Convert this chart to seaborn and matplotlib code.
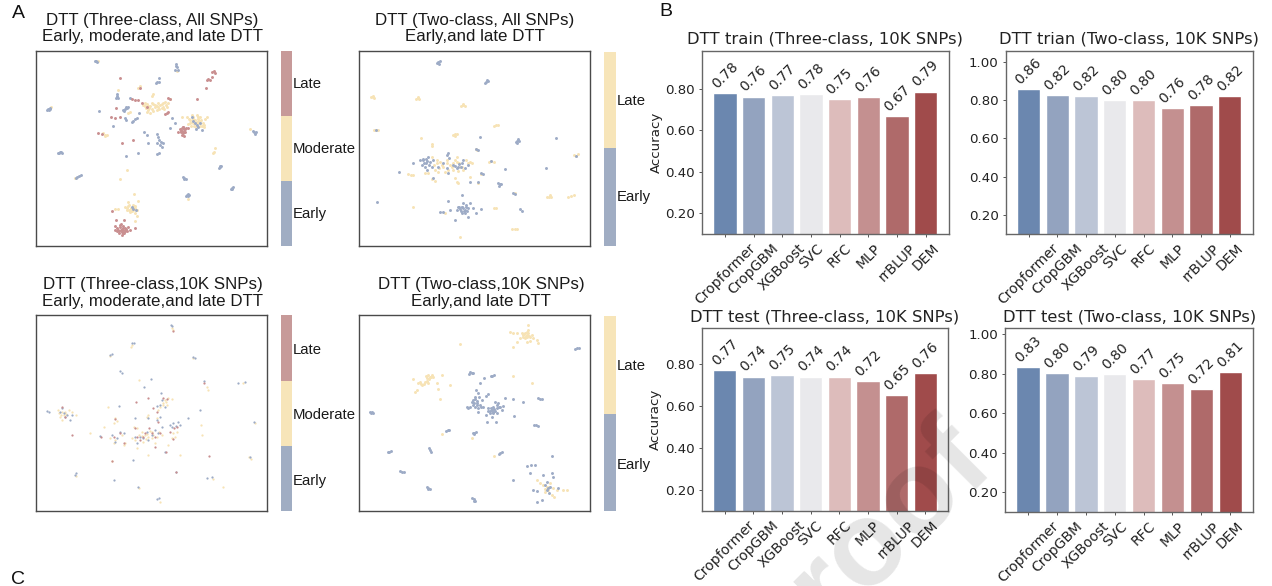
import matplotlib
matplotlib.use("Agg")
import matplotlib.pyplot as plt
import pandas as pd
import seaborn as sns

W, H = 1272, 586
METHODS = ["Cropformer", "CropGBM", "XGBoost", "SVC", "RFC", "MLP", "rrBLUP", "DEM"]
BAR_COLORS = ["#6b87af", "#93a3bf", "#bcc5d6", "#e9e9ec", "#ddbcbb", "#c49090", "#af6a6a", "#a04b4b"]
train_three = [0.78, 0.763, 0.772, 0.775, 0.75, 0.76, 0.668, 0.788]
train_two = [0.857, 0.825, 0.82, 0.80, 0.80, 0.76, 0.775, 0.822]
test_three = [0.772, 0.74, 0.746, 0.74, 0.74, 0.718, 0.653, 0.755]
test_two = [0.833, 0.803, 0.787, 0.797, 0.771, 0.75, 0.72, 0.808]

C_EARLY, C_MOD, C_LATE = "#9dabc6", "#f7e3b5", "#c98f90"
BAND_EARLY, BAND_MOD, BAND_LATE = "#a0adc3", "#f7e5b9", "#c79a99"

a1_early = [(146,327),(150,325),(143,330),(148,331),(152,328),(288,181),(284,183),(292,184),(527,190),(530,200),(526,208),(533,209),(529,196),
(472,246),(468,249),(476,244),(478,232),(350,280),(352,287),(349,292),(355,293),(375,327),(370,330),(380,325),(373,334),(385,322),(377,322),
(180,457),(175,458),(185,456),(178,459),(187,458),(232,531),(238,529),(244,526),(228,534),(553,534),(549,532),(557,538),(552,537),
(561,585),(565,582),(558,587),(563,589),(568,586),(660,501),(656,504),(663,499),(658,498),(695,564),(691,566),(698,562),(696,567),
(762,397),(768,395),(758,394),(764,401),(472,402),(475,412),(478,420),(472,428),(483,425),(480,435),(486,442),(488,430),
(375,355),(378,360),(405,358),(400,362),(395,367),(410,355),(418,340),(440,405),(445,430),(415,458),(377,467),(470,462),(478,460),(433,397),
(525,368),(510,385),(515,355),(298,334),(340,378),(390,292),(585,368),(590,375),(578,362),(595,382),(600,370),(607,390),(588,388),(575,350),
(400,628),(408,632),(395,622)]
a1_mod = [(430,315),(440,312),(450,318),(460,312),(470,318),(480,315),(490,320),(498,316),(505,308),(495,305),(475,308),(465,322),(455,328),(445,330),
(435,310),(485,325),(470,330),(450,340),(440,335),(415,262),(420,258),(354,268),(460,282),(457,286),(510,295),(385,338),(390,335),
(570,360),(575,365),(580,370),(585,360),(590,365),(595,358),(600,368),(565,372),(572,378),(580,352),(588,380),(600,378),(610,370),(615,358),
(622,352),(607,378),(560,350),(575,345),(590,345),(545,352),(613,382),(315,404),(310,400),(320,406),(314,408),(640,455),(637,458),(644,445),
(380,510),(360,537),(225,535),(403,583),(385,620),(392,625),(398,615),(405,620),(380,630),(388,632),(395,635),(405,640),(412,630),(375,622),
(415,605),(385,607),(345,628),(355,627),(410,650),(405,665),(565,598),(530,212),(295,182),(155,322),(750,388),
(435,318),(445,318),(455,310),(465,316),(475,322),(485,312),(492,326),(438,325),(448,324),(460,332),(478,328),(500,322),(488,308),
(578,358),(584,372),(592,370),(598,364),(570,368),(582,378),(594,352),(604,360),(566,356),(612,376),(600,350),
(388,616),(394,628),(400,622),(390,636),(382,624),(398,630),(406,626)]
a1_late = [(640,212),(645,218),(635,215),(625,235),(630,240),(620,238),(634,230),(618,262),(592,296),(361,232),(395,295),(405,298),(415,300),(425,308),
(500,338),(505,335),(495,342),(511,295),(503,292),(547,392),(552,388),(542,396),(558,385),(540,388),(550,400),(556,395),(548,380),(565,385),
(545,405),(552,408),(535,395),(365,688),(360,682),(370,692),(355,690),(375,685),(350,695),(380,695),(368,700),(362,672),(345,680),(390,690),
(365,705),(358,700),(370,678),(348,662),(335,635),(385,682),(405,685),(344,690),(372,662),(420,262),(359,350),(348,325),(332,352),(400,420),
(365,430),(305,403),(295,400),(345,355),(440,320),
(546,385),(552,396),(544,392),(556,388),(550,380),(362,690),(368,684),(358,694),(374,694),(352,684),(366,696),(378,688),(372,700),(360,676)]

a2_early = [(265,187),(262,190),(268,192),(270,185),(410,247),(415,244),(406,250),(412,240),(503,424),(498,426),(508,423),(503,430),(505,418),
(450,552),(445,550),(455,553),(449,557),(620,416),(392,412),(80,606),(147,516),(590,503),(467,507),(495,582),(490,580),(510,628),(516,632),
(220,480),(228,490),(235,470),(240,485),(215,495),(225,500),(245,500),(250,480),(210,480),(190,490),(232,510),(290,465),(295,460),(298,475),
(290,505),(295,520),(310,495),(320,505),(335,490),(340,480),(325,500),(345,505),(355,495),(280,490),(265,500),(250,535),(385,450),(380,447),
(395,520),(400,523),(360,545),(385,545),(340,625),(335,620),(345,630),(330,628),(350,615),(355,625),(325,620),(345,640),(335,640),(360,610),
(340,610),(320,630),(315,660),(300,630),(295,603),(335,585),(270,637),(278,636),(370,625),(355,650),(395,628),(380,640),(680,467),(425,483),(78,390),
(222,488),(232,482),(238,494),(218,476),(228,476),(338,622),(342,632),(332,634),(348,622),(328,622),(352,632),(326,492),(334,502),(316,498)]
a2_late = [(68,292),(62,291),(72,294),(70,288),(203,296),(198,298),(208,298),(204,292),(340,317),(334,318),(346,318),(340,312),(78,390),(72,392),(84,390),
(438,377),(432,378),(444,376),(316,404),(310,405),(322,403),(316,410),(245,440),(247,433),(383,450),(378,448),(680,468),(674,465),(686,463),
(425,483),(417,485),(432,487),(360,485),(355,488),(350,480),(368,490),(260,490),(270,485),(280,500),(300,495),(310,490),(320,485),(330,500),
(340,510),(255,510),(265,515),(285,515),(245,470),(320,470),(290,480),(235,520),(225,520),(320,545),(315,535),(325,548),(255,542),(245,538),
(183,524),(175,522),(190,525),(395,522),(360,530),(385,548),(598,590),(592,592),(604,592),(600,586),(655,590),(665,587),(672,585),(495,687),
(488,688),(503,686),(438,623),(432,625),(495,580),(330,710),(190,622),(213,415),(285,640),
(262,480),(275,495),(290,490),(305,500),(315,480),(328,490),(268,505),(252,495),(295,510),(310,510),(338,500),(325,512)]

a3_early = [(512,75),(516,78),(395,130),(400,128),(328,165),(334,162),(360,214),(365,218),(580,172),(585,175),(612,243),(735,245),(715,250),(762,365),
(750,472),(636,532),(622,533),(414,560),(470,597),(476,595),(226,520),(224,526),(340,541),(527,515),(397,480),(453,236),(433,260),(600,330),(563,354),
(140,333),(145,337),(180,335),(190,340),(200,345),(210,360),(215,345),(195,350),(185,325),(440,395),(455,405),(430,415),(465,390),(420,410),(475,400),
(405,412),(445,420),(410,430),(485,380),(335,405),(350,415),(345,425),(360,395),(372,398),(300,408),(520,370),(528,378),(515,380),(535,365),(510,375),
(540,375),(480,315),(495,320),(485,300),(470,318),(482,278),(470,360),(405,355),(355,317),(445,355),(480,352),(495,455)]
a3_mod = [(515,85),(518,90),(395,135),(392,142),(330,168),(578,173),(620,262),(623,270),(730,250),(765,370),(752,476),(748,470),(640,538),(415,565),(480,605),
(228,528),(670,562),(415,240),(322,322),(175,340),(185,335),(180,350),(195,335),(205,330),(190,345),(172,330),(215,335),(228,345),(185,360),(400,380),
(410,385),(425,395),(435,405),(445,410),(455,395),(470,410),(485,405),(415,405),(395,415),(430,425),(465,430),(375,430),(372,435),(410,445),(445,465),
(330,415),(345,420),(340,430),(365,405),(270,398),(310,380),(345,355),(350,362),(340,368),(520,400),(525,410),(515,415),(530,395),(495,300),(505,295),
(515,296),(490,310),(480,320),(500,315),(475,330),(440,350),(445,345),(605,405),(602,375),(540,465),(505,435),(470,355),(335,482),
(440,402),(450,392),(460,405),(425,408),(478,395),(405,420),(438,418),(455,415),(182,345),(198,342),(488,316),(498,306)]
a3_late = [(518,93),(408,305),(345,358),(443,293),(470,335),(460,325),(455,400),(435,398),(465,410),(448,385),(420,420),(360,398),(340,410),(185,322),(195,352),
(215,405),(302,410),(628,468),(474,365),(522,385),(510,395),(530,382),(520,418),(465,440),(480,400),(370,430),(497,455),(527,515),(335,482),(612,250),
(405,385),(410,410),(430,410),(500,298),(490,295)]

a4_early = [(365,218),(360,216),(370,220),(358,221),(427,227),(432,226),(422,228),(682,145),(676,147),(688,144),(65,336),(60,335),(70,338),(64,340),(570,296),
(565,295),(576,298),(558,376),(553,375),(563,378),(293,391),(298,389),(288,394),(373,398),(368,400),(379,396),(372,403),(239,450),(236,445),(242,455),
(118,455),(113,457),(123,453),(450,458),(446,463),(455,455),(156,515),(151,514),(161,517),(235,564),(230,562),(240,566),(235,568),(371,598),(366,594),
(376,602),(372,602),(605,468),(530,499),(543,496),(556,494),(540,518),(489,539),(402,234),(390,250),(490,297),(520,305),(492,348),(413,283),(407,287),
(380,310),(370,300),(375,290),(378,270),(385,280),(365,305),(390,315),(360,320),(355,325),(350,322),(385,325),(395,300),(375,320),(400,320),(415,325),
(425,330),(430,335),(420,340),(440,325),(450,320),(460,318),(445,310),(435,305),(465,295),(440,340),(425,350),(410,365),(438,365),(408,345),(385,335),
(430,320),(455,330),(388,292),(595,565),(590,570),(600,560),(585,555),(605,520),(610,530),(580,525),(560,572),(548,570),(625,565),(598,580),(575,600),
(560,605),(590,545),
(372,310),(382,302),(376,296),(368,314),(382,316),(392,322),(424,324),(432,328),(420,332),(436,334),(428,340),(446,322),(414,332),(440,316)]
a4_late = [(525,100),(530,105),(535,100),(520,110),(540,110),(525,115),(515,100),(545,105),(500,100),(490,98),(480,97),(535,90),(510,115),(530,125),(560,120),
(565,128),(500,125),(488,140),(535,75),(550,115),(530,95),(540,122),(235,225),(240,230),(230,235),(225,245),(205,250),(210,245),(245,225),(235,250),
(190,236),(200,270),(195,275),(215,255),(250,232),(275,225),(262,248),(270,296),(265,268),(300,255),(330,133),(488,227),(545,250),(276,403),(367,414),
(433,468),(590,560),(595,570),(600,550),(580,555),(610,565),(570,550),(620,570),(640,570),(650,570),(585,575),(605,585),(560,540),(612,590),
(228,228),(238,238),(222,252),(232,244),(242,232),(212,252),(528,108),(536,108),(522,102),(530,112),(518,106),(598,562),(586,566)]

sns.set_theme(style="white")
plt.rcParams["font.family"] = ["DejaVu Sans"]
fig = plt.figure(figsize=(W / 100, H / 100), dpi=100, facecolor="white")


def make_axes(x0, y0, x1, y1):
    return fig.add_axes([x0 / W, 1 - y1 / H, (x1 - x0) / W, (y1 - y0) / H])


def scatter_panel(box, xr, yr, groups, title1, title2, tx, size=4.5):
    ax = make_axes(*box)
    for pts, col in groups:
        df = pd.DataFrame(pts, columns=["u1", "u2"])
        sns.scatterplot(data=df, x="u1", y="u2", color=col, s=size, marker="o", linewidth=0, ax=ax, legend=False)
    ax.set_xlim(*xr)
    ax.set_ylim(yr[1], yr[0])
    ax.set_xticks([]); ax.set_yticks([])
    ax.set_xlabel(""); ax.set_ylabel("")
    for s in ax.spines.values():
        s.set_color("#4a4a4a"); s.set_linewidth(1.0); s.set_visible(True)
    fig.text(tx / W, 1 - (box[1] - 31) / H, title1, ha="center", va="center", fontsize=12.2, family="Liberation Sans", color="#1a1a1a")
    fig.text(tx / W, 1 - (box[1] - 14) / H, title2, ha="center", va="center", fontsize=12.2, family="Liberation Sans", color="#1a1a1a")


def band(box, fracs, colors, labels, label_ys):
    ax = make_axes(*box)
    bottom = 0
    for f, c in zip(fracs, colors):
        ax.bar([0], [f], bottom=[bottom], width=1, color=c, linewidth=0)
        bottom += f
    ax.set_xlim(-0.5, 0.5); ax.set_ylim(0, 1)
    ax.axis("off")
    for lab, ly in zip(labels, label_ys):
        fig.text((box[2] + 1.5) / W, 1 - ly / H, lab, ha="left", va="center", fontsize=10.7, family="Liberation Sans", color="#1a1a1a")


def bar_panel(box, vals, title, ylim, ylabel):
    ax = make_axes(*box)
    df = pd.DataFrame({"m": METHODS, "v": vals})
    sns.barplot(data=df, x="m", y="v", hue="m", palette=BAR_COLORS, dodge=False, legend=False, ax=ax, width=0.81, saturation=1)
    ax.set_xlim(-0.8, 7.8)
    ax.set_ylim(*ylim)
    ticks = [0.2, 0.4, 0.6, 0.8] + ([1.0] if ylim[1] > 1 else [])
    ax.set_yticks(ticks)
    ax.set_yticklabels([f"{t:.2f}" for t in ticks], fontsize=9.6, color="#222222")
    ax.set_xticks(range(8))
    ax.set_xticklabels(METHODS, rotation=45, ha="center", fontsize=10, color="#222222")
    ax.tick_params(axis="both", length=2, width=0.7, pad=3, color="#555555", bottom=True, left=True)
    ax.set_xlabel("")
    ax.set_ylabel("Accuracy" if ylabel else "", fontsize=9.6, labelpad=2, color="#222222")
    ax.set_title(title, fontsize=11.8, pad=5, color="#222222")
    for i, v in enumerate(vals):
        ax.text(i, v + 0.01, f"{v:.2f}", ha="center", va="bottom", rotation=45, fontsize=10, color="#222222")
    for s in ax.spines.values():
        s.set_color("#666666"); s.set_linewidth(1.0); s.set_visible(True)


scatter_panel((36, 51, 267, 246), (109, 800), (152, 739), [(a1_mod, C_MOD), (a1_early, C_EARLY), (a1_late, C_LATE)],
              "DTT (Three-class, All SNPs)", "Early, moderate,and late DTT", 152)
scatter_panel((359.3, 51, 590, 246), (28, 721), (154, 738), [(a2_late, C_MOD), (a2_early, C_EARLY)],
              "DTT (Two-class, All SNPs)", "Early,and late DTT", 475)
scatter_panel((36, 315.3, 267.3, 511), (107, 802), (46, 633), [(a3_mod, C_MOD), (a3_early, C_EARLY), (a3_late, C_LATE)],
              "DTT (Three-class,10K SNPs)", "Early, moderate,and late DTT", 153, size=2.6)
scatter_panel((359, 315.3, 590.3, 511), (27, 721), (46, 633), [(a4_late, C_MOD), (a4_early, C_EARLY)],
              "DTT (Two-class,10K SNPs)", "Early,and late DTT", 481)

three_fracs = [1 / 3, 1 / 3, 1 / 3]
band((281.3, 51, 291.7, 246), three_fracs, [BAND_EARLY, BAND_MOD, BAND_LATE], ["Late", "Moderate", "Early"], [84, 149, 214])
band((604.3, 51.5, 615.7, 246), [0.503, 0.497], [BAND_EARLY, BAND_MOD], ["Late", "Early"], [101, 197])
band((281.3, 315.3, 291.7, 511), three_fracs, [BAND_EARLY, BAND_MOD, BAND_LATE], ["Late", "Moderate", "Early"], [350, 415, 481])
band((604.3, 316, 615.7, 511), [0.5, 0.5], [BAND_EARLY, BAND_MOD], ["Late", "Early"], [366, 465])

bar_panel((702, 50.7, 948.5, 234), train_three, "DTT train (Three-class, 10K SNPs)", (0.1, 0.985), True)
bar_panel((1005.7, 50.7, 1252.7, 234.3), train_two, "DTT trian (Two-class, 10K SNPs)", (0.1, 1.057), False)
bar_panel((701.7, 328, 948.3, 511.3), test_three, "DTT test (Three-class, 10K SNPs)", (0.1, 0.971), True)
bar_panel((1005, 328, 1253.3, 512.3), test_two, "DTT test (Two-class, 10K SNPs)", (0.1, 1.03), False)

for letter, lx, ly in [("A", 18, 13), ("B", 666, 12), ("C", 18, 580)]:
    fig.text(lx / W, 1 - ly / H, letter, ha="center", va="center", fontsize=14, family="Liberation Sans", color="#111111")

fig.text(891 / W, 1 - 523 / H, "roof", ha="center", va="center", rotation=45, rotation_mode="anchor", fontsize=86,
         family="Liberation Sans", weight="bold", color="black", alpha=0.10, zorder=20)

fig.savefig("out.png", dpi=100)
